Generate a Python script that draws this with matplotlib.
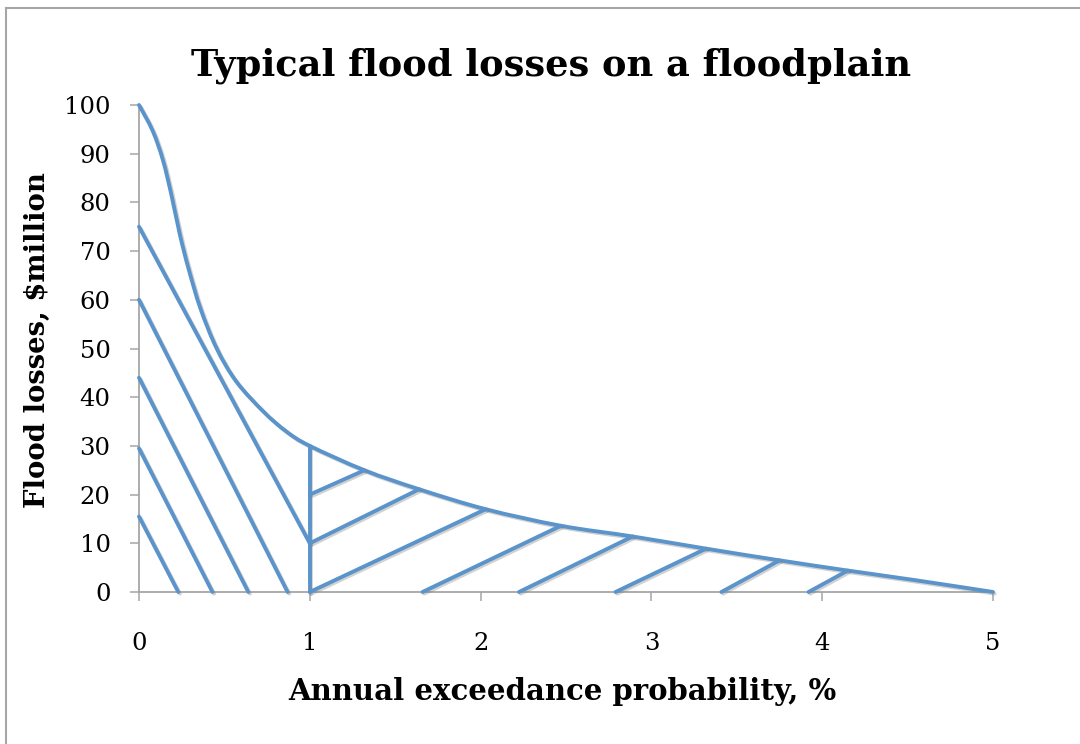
import matplotlib
matplotlib.use("Agg")
import matplotlib.pyplot as plt
import matplotlib.patheffects as pe
from matplotlib.lines import Line2D
from matplotlib.path import Path
from matplotlib.patches import PathPatch

# ---- data ----
curve_x = [0, 0.08, 0.14, 0.19, 0.24, 0.29, 0.36, 0.455, 0.57, 0.73, 0.865, 1.0,
           1.32, 1.64, 2.03, 2.47, 2.89, 3.32, 3.75, 4.15, 4.55, 5.0]
curve_y = [100, 94.7, 88.7, 81.5, 73.3, 66.4, 58.2, 50.0, 43.2, 37.0, 32.9, 30.0,
           25.0, 21.1, 17.0, 13.6, 11.4, 8.9, 6.5, 4.4, 2.4, 0]

# hatch lines left of 1 % (descending)
left_hatch_x = [[0, 1.0], [0, 0.87], [0, 0.64], [0, 0.43], [0, 0.23]]
left_hatch_y = [[75, 10], [60, 0], [44, 0], [29.5, 0], [15.5, 0]]

# vertical line at 1 %
vert_x = [1.0, 1.0]
vert_y = [0, 30.0]

# hatch lines right of 1 % (ascending)
right_hatch_x = [[1.0, 1.32], [1.0, 1.64], [1.0, 2.03], [1.66, 2.47],
                 [2.225, 2.89], [2.79, 3.32], [3.41, 3.75], [3.92, 4.15]]
right_hatch_y = [[20, 25.0], [10, 21.1], [0, 17.0], [0, 13.6],
                 [0, 11.4], [0, 8.9], [0, 6.5], [0, 4.4]]

x_ticks = [0, 1, 2, 3, 4, 5]
y_ticks = [0, 10, 20, 30, 40, 50, 60, 70, 80, 90, 100]

title = "Typical flood losses on a floodplain"
xlabel = "Annual exceedance probability, %"
ylabel = "Flood losses, $million"

# ---- style ----
serif = ["DejaVu Serif", "Liberation Serif"]
plt.rcParams["font.family"] = serif
blue = "#5B93CB"
gray = "#A6A6A6"
lw = 2.8
effects = [pe.SimpleLineShadow(offset=(1.2, -1.2), shadow_color="#808080", alpha=0.35),
           pe.Normal()]

fig = plt.figure(figsize=(10.8, 7.44), dpi=100)
ax = fig.add_axes([139 / 1080, 1 - 592 / 744, (993 - 139) / 1080, (592 - 105) / 744])


def draw(xs, ys):
    ax.plot(xs, ys, color=blue, lw=lw, solid_capstyle="round",
            solid_joinstyle="round", path_effects=effects, clip_on=False, zorder=3)


def draw_smooth(xs, ys):
    # smoothed line through the data points (Catmull-Rom as cubic Bezier)
    n = len(xs)
    verts = [(xs[0], ys[0])]
    codes = [Path.MOVETO]
    for i in range(n - 1):
        i0 = max(i - 1, 0)
        i3 = min(i + 2, n - 1)
        c1 = (xs[i] + (xs[i + 1] - xs[i0]) / 6, ys[i] + (ys[i + 1] - ys[i0]) / 6)
        c2 = (xs[i + 1] - (xs[i3] - xs[i]) / 6, ys[i + 1] - (ys[i3] - ys[i]) / 6)
        verts += [c1, c2, (xs[i + 1], ys[i + 1])]
        codes += [Path.CURVE4] * 3
    patch = PathPatch(Path(verts, codes), facecolor="none", edgecolor=blue, lw=lw,
                      capstyle="round", joinstyle="round", path_effects=effects,
                      clip_on=False, zorder=3)
    ax.add_patch(patch)


draw_smooth(curve_x, curve_y)
for xs, ys in zip(left_hatch_x, left_hatch_y):
    draw(xs, ys)
draw(vert_x, vert_y)
for xs, ys in zip(right_hatch_x, right_hatch_y):
    draw(xs, ys)

ax.set_xlim(0, 5)
ax.set_ylim(0, 100)
ax.set_xticks(x_ticks)
ax.set_yticks(y_ticks)
ax.set_xticklabels([str(v) for v in x_ticks])
ax.set_yticklabels([str(v) for v in y_ticks])

for s in ["top", "right"]:
    ax.spines[s].set_visible(False)
for s in ["left", "bottom"]:
    ax.spines[s].set_color(gray)
    ax.spines[s].set_linewidth(1.3)

ax.tick_params(axis="y", direction="out", length=6.5, width=1.1, color=gray,
               labelsize=17.5, pad=14, labelcolor="black")
ax.tick_params(axis="x", direction="out", length=6.5, width=1.1, color=gray,
               labelsize=17.5, pad=22, labelcolor="black")

fig.text(551 / 1080, 1 - 76 / 744, title, ha="center", va="baseline",
         fontsize=26.5, fontweight="bold", family=serif)
fig.text(562 / 1080, 1 - 700 / 744, xlabel, ha="center", va="baseline",
         fontsize=21, fontweight="bold", family=serif)
fig.text(37 / 1080, 1 - 340 / 744, ylabel, ha="center", va="center",
         rotation=90, fontsize=19.8, fontweight="bold", family=serif)

# chart-area border (top and left edges visible in the reference)
fig.add_artist(Line2D([6 / 1080, 1.0], [1 - 8 / 744, 1 - 8 / 744],
                      transform=fig.transFigure, color=gray, lw=1.5))
fig.add_artist(Line2D([6 / 1080, 6 / 1080], [0, 1 - 8 / 744],
                      transform=fig.transFigure, color=gray, lw=1.5))

fig.savefig("out.png", dpi=100)
